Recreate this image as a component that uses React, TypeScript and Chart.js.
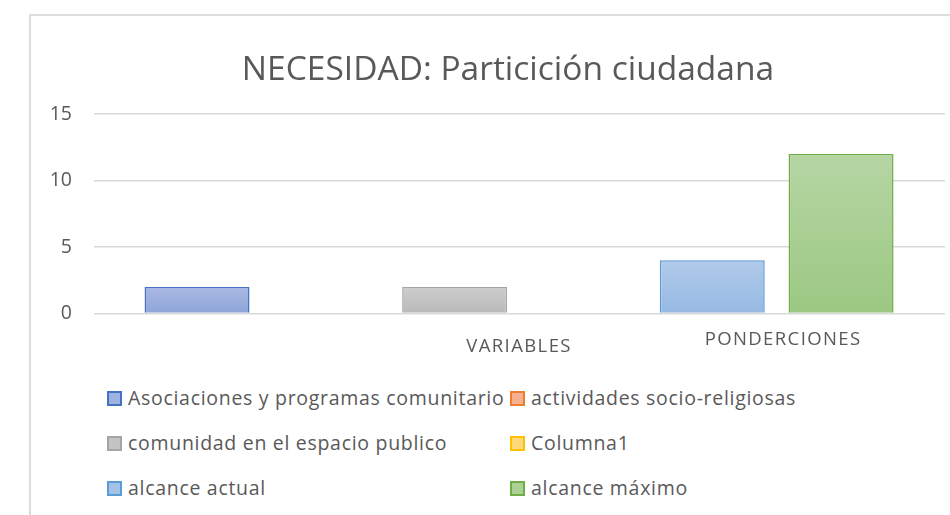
import React, { useEffect, useRef } from "react";
import { Chart, registerables } from "chart.js";

Chart.register(...registerables);

const chartTitle = "NECESIDAD: Particición ciudadana";
const seriesNames = [
  "Asociaciones y programas comunitario",
  "actividades socio-religiosas",
  "comunidad en el espacio publico",
  "Columna1",
  "alcance actual",
  "alcance máximo",
];
const seriesValues: (number | null)[] = [2, null, 2, null, 4, 12];
const xTickLabels = ["VARIABLES", "PONDERCIONES"];
const xTickValues = [2.5, 4.55];
const yMin = 0;
const yMax = 15;
const yStep = 5;

const fillTop = ["#aab9e2", "#f6bb9f", "#cdcdcd", "#ffdc8c", "#b1cae9", "#b6d6a4"];
const fillBottom = ["#8ea5da", "#f2a57f", "#b9b9b9", "#ffd266", "#96b9e3", "#9cc883"];
const borderColors = ["#4472c4", "#ed7d31", "#a5a5a5", "#ffc000", "#5b9bd5", "#70ad47"];
const legendFill = ["#9fb1de", "#f5b08f", "#c4c4c4", "#ffd97a", "#a3c2e6", "#abd194"];

const FONT = "'Open Sans', Lato, sans-serif";
const TEXT = "#595959";

function withLetterSpacing(s: any, spacing: string) {
  if (s.__spaced) return;
  const orig = s.draw;
  s.draw = function (area: any) {
    const ctx = this.ctx;
    ctx.save();
    try {
      (ctx as any).letterSpacing = spacing;
    } catch (e) {}
    orig.call(this, area);
    ctx.restore();
  };
  s.__spaced = true;
}

export default function App() {
  const ref = useRef<HTMLCanvasElement>(null);

  useEffect(() => {
    const canvas = ref.current;
    if (!canvas) return;
    const chart = new Chart(canvas, {
      type: "bar",
      data: {
        datasets: seriesNames.map((name, i) => ({
          label: name,
          data: seriesValues[i] == null ? [] : [{ x: i, y: seriesValues[i] as number }],
          backgroundColor: (c: any) => {
            const ch = c.chart;
            const v = c.parsed ? c.parsed.y : null;
            if (v == null || !ch.chartArea || !ch.scales.y) return fillBottom[i];
            const top = ch.scales.y.getPixelForValue(v);
            const base = ch.scales.y.getPixelForValue(0);
            const g = ch.ctx.createLinearGradient(0, top, 0, base);
            g.addColorStop(0, fillTop[i]);
            g.addColorStop(1, fillBottom[i]);
            return g;
          },
          borderColor: borderColors[i],
          borderWidth: 1.5,
          grouped: false,
          barPercentage: 0.815,
          categoryPercentage: 1,
        })),
      },
      options: {
        animation: false,
        responsive: false,
        maintainAspectRatio: false,
        layout: { padding: { left: 0, right: 0, top: 0, bottom: 0 } },
        plugins: {
          legend: { display: false },
          tooltip: { enabled: false },
          title: {
            display: true,
            text: chartTitle,
            color: TEXT,
            font: { family: FONT, size: 33.5, weight: "normal" },
            padding: { top: 50, bottom: 24 },
          },
        },
        scales: {
          x: {
            type: "linear",
            min: -0.8,
            max: 5.807,
            offset: false,
            grid: { display: false, drawTicks: false },
            border: { display: false },
            afterBuildTicks: (s: any) => {
              s.ticks = xTickValues.map((v) => ({ value: v }));
            },
            afterFit: (s: any) => {
              s.height = 56.5;
              withLetterSpacing(s, "1.4px");
            },
            ticks: {
              autoSkip: false,
              maxRotation: 0,
              padding: 23,
              color: TEXT,
              font: { family: FONT, size: 18.5, lineHeight: "7px" },
              callback: (_v: any, i: number) => (i === 0 ? ["", xTickLabels[i]] : [xTickLabels[i]]),
            },
          },
          y: {
            min: yMin,
            max: yMax,
            grid: { color: "#d9d9d9", lineWidth: 1.5, drawTicks: false },
            border: { display: false },
            afterFit: (s: any) => {
              s.width = 94;
            },
            ticks: {
              stepSize: yStep,
              padding: 22,
              color: TEXT,
              font: { family: FONT, size: 19.5 },
            },
          },
          yPad: {
            type: "linear",
            position: "right",
            display: true,
            grid: { display: false, drawTicks: false },
            border: { display: false },
            ticks: { display: false },
            afterFit: (s: any) => {
              s.width = 71;
            },
          },
        },
      },
    } as any);
    return () => chart.destroy();
  }, []);

  const rowCenters = [397.5, 442.5, 487];
  const colLefts = [107, 510];

  return (
    <div
      style={{
        position: "fixed",
        left: 0,
        top: 0,
        width: 950,
        height: 515,
        background: "#fff",
        overflow: "hidden",
      }}
    >
      <div
        style={{
          position: "absolute",
          left: 29,
          top: 14,
          width: 1000,
          height: 600,
          border: "2px solid #dcdcdc",
          boxSizing: "border-box",
        }}
      />
      <canvas
        ref={ref}
        width={1016}
        height={370}
        style={{ position: "absolute", left: 0, top: 0, display: "block" }}
      />
      {seriesNames.map((name, i) => {
        const row = Math.floor(i / 2);
        const col = i % 2;
        return (
          <div
            key={name}
            style={{
              position: "absolute",
              left: colLefts[col],
              top: rowCenters[row] - 13,
              height: 26,
              display: "flex",
              alignItems: "center",
              fontFamily: FONT,
              fontSize: 19.5,
              letterSpacing: 0.7,
              color: TEXT,
              whiteSpace: "nowrap",
            }}
          >
            <span
              style={{
                display: "inline-block",
                width: 15,
                height: 15,
                boxSizing: "border-box",
                border: `2px solid ${borderColors[i]}`,
                background: legendFill[i],
                marginRight: 6,
                flex: "none",
                position: "relative",
                top: 1,
              }}
            />
            <span>{name}</span>
          </div>
        );
      })}
    </div>
  );
}
